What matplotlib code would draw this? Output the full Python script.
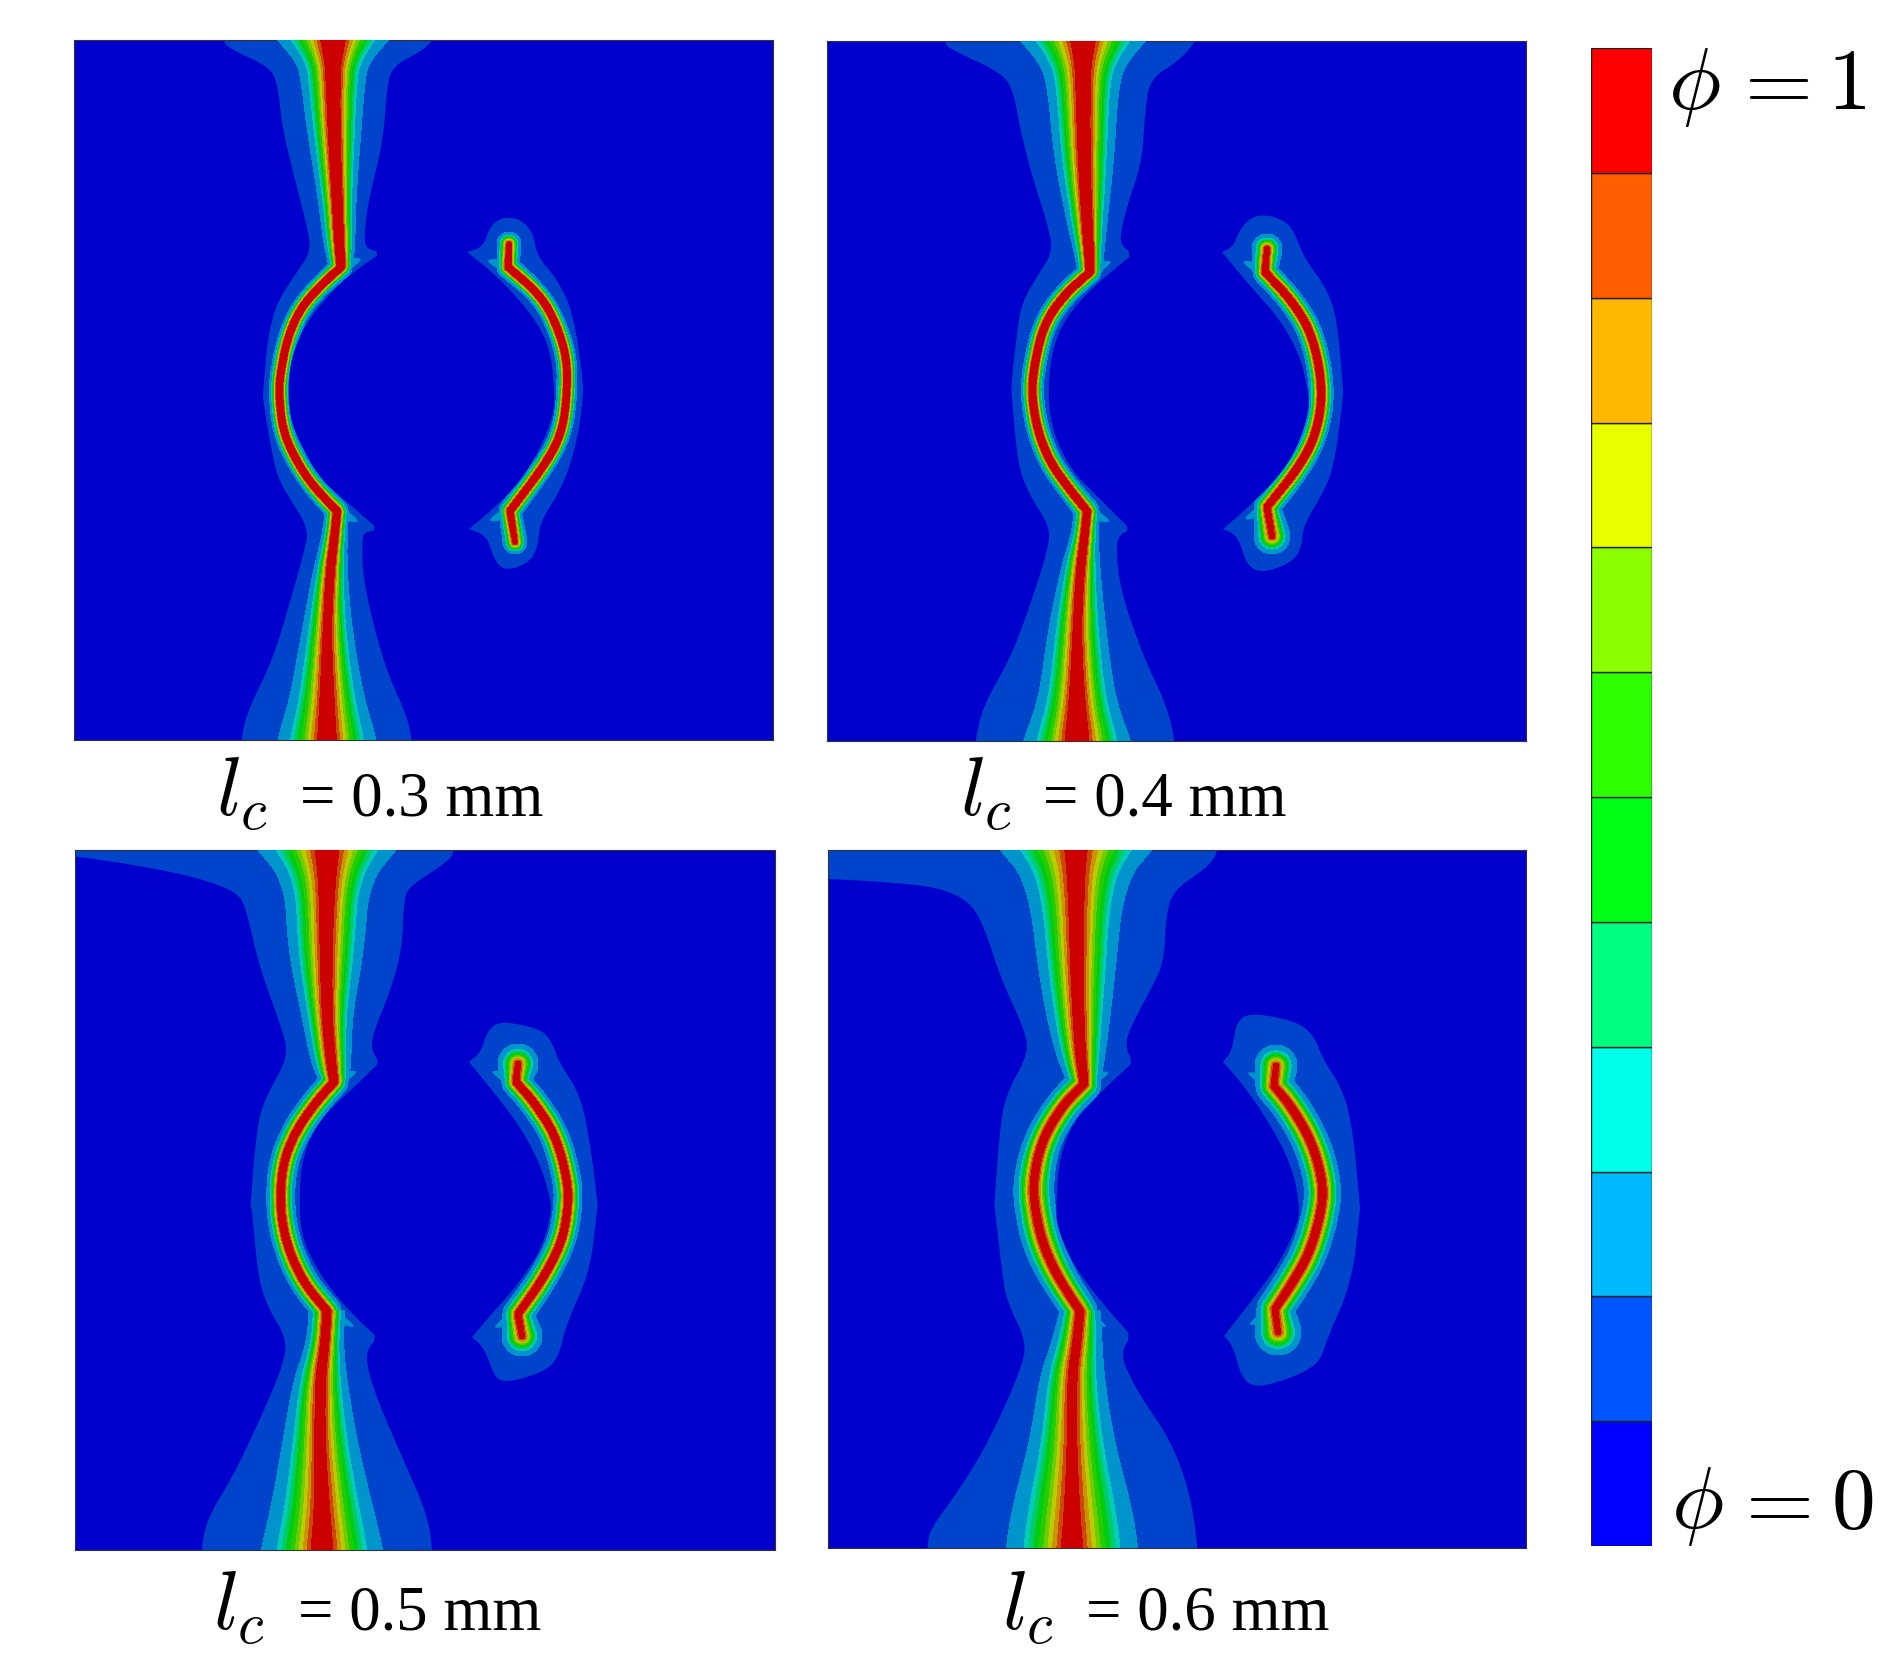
import numpy as np
import matplotlib
matplotlib.use('Agg')
import matplotlib.pyplot as plt

plt.rcParams['mathtext.fontset'] = 'cm'

W, H = 1892, 1656

# colour bands from phi=0 to phi=1 as on the legend
bar_colors = ['#0000ff', '#0055ff', '#00b9ff', '#00ffe8', '#00ff80', '#00ff17',
              '#2eff00', '#8bff00', '#e8ff00', '#ffb900', '#ff5d00', '#ff0000']
labels = ['0.3', '0.4', '0.5', '0.6']

# all positions below in image pixels
# crack paths: x, y, half width of red core, half width up to the sky band edge
P1_UPPER = [(333,38,13,58),(333,63,8,36),(333,80,7,32),(334,130,6,27),(337,197,5,19),(339,240,4.5,16),(341,268,4,12)]
P1_ARC = [(341,268,3.2,11),(320,287,3.2,10),(300,310,3.2,10),(287,340,3.2,10),(280,377,3.2,10),(279,397,3.2,10),(283,433,3.2,10),(297,463,3.2,10),(313,487,3.2,10),(337,512,3.2,11)]
P1_LOWER = [(337,512,3.5,12),(335,533,3.5,12),(330,573,4,17),(327,633,4,25),(327,700,7,37),(327,735,9,48),(327,750,10,50)]
P1_RIGHT = [(509,245,2.2,12),(508,268,3,11),(537,293,3.2,10),(553,317,3.2,10),(567,357,3.2,10),(567,397,3.2,10),(562,433,3.2,10),(547,463,3.2,10),(510,512,3,11),(515,543,2.2,12)]

P2_UPPER = [(1083,38,13,66),(1083,65,8,42),(1083,90,7,35),(1084,157,6,30),(1087,223,5,20),(1089,252,4.5,15),(1090,273,4,12)]
P2_ARC = [(1090,273,3.2,11),(1063,297,3.4,11),(1043,327,3.4,11),(1033,373,3.4,11),(1032,400,3.4,11),(1038,433,3.4,11),(1050,463,3.4,11),(1067,487,3.4,11),(1087,512,3.2,12)]
P2_LOWER = [(1087,512,3.5,13),(1085,533,3.5,13),(1080,573,4,20),(1077,633,4,29),(1077,700,7.5,38),(1077,740,12,53),(1077,752,12,55)]
P2_RIGHT = [(1267,250,2.4,15),(1265,273,3,12),(1293,303,3.4,12),(1313,337,3.4,12),(1323,390,3.4,12),(1317,433,3.4,12),(1300,467,3.4,12),(1267,508,3,13),(1272,537,2.4,18)]

P3_UPPER = [(327,846,12.5,73),(327,883,8,42),(326,950,6,38),(327,1017,5,25),(331,1063,4.5,20),(334,1083,4,14)]
P3_ARC = [(334,1083,3.4,14),(316,1103,3.4,14),(295,1133,3.4,14),(282,1167,3.4,14),(280,1210,3.4,14),(287,1247,3.4,14),(303,1283,3.4,14),(327,1312,3.4,14)]
P3_LOWER = [(327,1312,4,18),(325,1343,4,18),(320,1383,5,27),(320,1443,5,37),(322,1510,7.5,51),(322,1550,11,61),(322,1565,11,61)]
P3_RIGHT = [(518,1065,2.4,20),(516,1083,3,14),(534,1103,3.4,14),(556,1137,3.4,14),(568,1183,3.4,14),(568,1210,3.4,14),(562,1243,3.4,14),(543,1280,3.4,14),(518,1315,3,15),(522,1337,2.4,20)]

P4_UPPER = [(1076,846,11.6,80),(1076,883,8,48),(1077,983,6,37),(1080,1050,5,26),(1084,1085,4,16)]
P4_ARC = [(1084,1085,3.4,17),(1062,1107,3.6,17),(1041,1143,3.6,18),(1033,1183,3.6,20),(1035,1210,3.6,20),(1042,1243,3.6,20),(1057,1277,3.6,18),(1080,1312,3.4,17)]
P4_LOWER = [(1080,1312,4,20),(1077,1343,4,25),(1072,1377,4.5,32),(1072,1443,4.5,42),(1072,1510,7.5,60),(1072,1550,11,66),(1072,1565,11,66)]
P4_RIGHT = [(1276,1067,2.4,21),(1274,1087,3,18),(1291,1107,3.6,18),(1312,1143,3.6,18),(1323,1183,3.6,18),(1322,1210,3.6,18),(1310,1253,3.6,18),(1293,1283,3.6,18),(1275,1310,3,18),(1278,1333,2.4,23)]

# outer blue band outlines
P1_OUT_L = [(223,30),(223,42),(230,50),(270,68),(278,87),(282,127),(293,173),(307,227),(311,252),(297,273),(277,303),(268,337),(263,393),(263,400),(270,443),(277,477),(290,500),(309,530),(303,557),(290,603),(273,660),(250,707),(242,733),(241,760),(412,760),(412,742),(407,717),(390,680),(377,640),(363,580),(362,540),(365,533),(379,531),(382,253),(367,250),(364,240),(368,203),(383,143),(387,87),(393,67),(420,53),(433,42),(433,30)]
P1_OUT_R = [(467,253),(483,248),(490,227),(503,218),(520,220),(533,233),(537,257),(557,280),(573,313),(583,380),(583,400),(577,443),(563,487),(540,523),(538,547),(530,563),(507,572),(495,563),(487,537),(469,530)]
P2_OUT_L = [(944,30),(944,43),(950,50),(1000,73),(1013,90),(1020,130),(1033,180),(1047,223),(1053,252),(1040,273),(1022,303),(1017,333),(1011,387),(1012,400),(1018,467),(1030,497),(1050,528),(1048,550),(1030,607),(1010,660),(983,707),(975,743),(975,760),(1175,760),(1175,743),(1167,707),(1143,657),(1120,590),(1116,547),(1120,535),(1131,531),(1133,255),(1122,247),(1120,237),(1127,207),(1142,163),(1145,113),(1150,80),(1177,63),(1196,43),(1196,30)]
P2_OUT_R = [(1222,253),(1233,248),(1240,230),(1253,217),(1270,216),(1290,225),(1298,243),(1305,260),(1327,290),(1337,320),(1343,387),(1343,400),(1335,460),(1327,487),(1303,527),(1302,547),(1293,563),(1263,574),(1247,567),(1238,537),(1223,530)]
P3_OUT_L = [(60,840),(60,857),(75,857),(141,867),(195,878),(238,893),(247,913),(259,967),(281,1027),(289,1057),(266,1097),(257,1127),(250,1208),(252,1210),(258,1277),(267,1307),(287,1340),(283,1367),(257,1427),(233,1477),(207,1520),(201,1552),(201,1575),(433,1575),(433,1558),(428,1517),(403,1460),(377,1400),(367,1367),(367,1350),(378,1339),(380,1063),(372,1053),(372,1037),(391,990),(402,950),(404,900),(409,888),(441,867),(454,856),(454,840)]
P3_OUT_R = [(469,1063),(481,1053),(488,1030),(502,1022),(541,1030),(552,1043),(559,1063),(581,1097),(591,1150),(598,1208),(597,1210),(590,1273),(567,1323),(558,1360),(543,1373),(510,1383),(495,1380),(485,1350),(472,1338)]
P4_OUT_L = [(815,840),(815,880),(832,880),(884,883),(937,888),(969,902),(984,927),(1001,980),(1023,1027),(1029,1053),(1009,1090),(1001,1117),(994,1208),(995,1210),(1002,1273),(1007,1303),(1027,1343),(1020,1373),(990,1440),(960,1490),(930,1530),(927,1550),(927,1575),(1198,1575),(1198,1550),(1190,1493),(1170,1440),(1140,1397),(1123,1363),(1123,1350),(1131,1337),(1133,1063),(1126,1050),(1128,1033),(1151,990),(1164,963),(1166,917),(1173,892),(1205,870),(1217,856),(1217,840)]
P4_OUT_R = [(1223,1063),(1232,1052),(1237,1020),(1255,1014),(1298,1023),(1314,1037),(1323,1060),(1344,1093),(1353,1133),(1360,1208),(1360,1210),(1352,1283),(1327,1340),(1320,1363),(1297,1377),(1257,1389),(1242,1380),(1233,1347),(1224,1337)]

# hole outlines (left edge top to bottom, right edge bottom to top)
P1_HOLE_L = [(382,253),(347,278),(327,298),(307,323),(293,353),(288,383),(290,420),(300,443),(320,480),(347,503),(379,531)]
P1_HOLE_R = [(469,530),(493,510),(520,483),(540,450),(553,417),(555,397),(550,347),(530,313),(497,277),(467,253)]
P2_HOLE_L = [(1133,255),(1093,288),(1067,317),(1053,347),(1048,387),(1050,417),(1057,443),(1073,473),(1093,493),(1131,531)]
P2_HOLE_R = [(1223,530),(1243,513),(1277,480),(1297,450),(1310,410),(1307,387),(1300,357),(1280,320),(1250,287),(1222,253)]
P3_HOLE_L = [(380,1063),(349,1093),(320,1120),(302,1157),(299,1208),(303,1243),(323,1280),(350,1313),(378,1339)]
P3_HOLE_R = [(472,1338),(490,1317),(520,1283),(543,1247),(552,1210),(549,1195),(541,1167),(520,1127),(491,1090),(469,1063)]
P4_HOLE_L = [(1133,1063),(1101,1093),(1073,1123),(1059,1160),(1056,1208),(1057,1227),(1070,1260),(1093,1293),(1131,1337)]
P4_HOLE_R = [(1224,1337),(1253,1300),(1280,1263),(1297,1227),(1300,1208),(1292,1167),(1269,1123),(1241,1083),(1223,1063)]

# sky band spurs towards the notch tips
P1_SPURS = [((367,258),(341,268)),((482,260),(508,268)),((364,525),(337,512)),((484,524),(510,512))]
P2_SPURS = [((1117,260),(1090,273)),((1237,260),(1265,273)),((1116,525),(1087,512)),((1239,523),(1267,508))]
P3_SPURS = [((363,1070),(334,1083)),((485,1070),(516,1083)),((362,1332),(327,1312)),((488,1332),(518,1315))]
P4_SPURS = [((1116,1070),(1084,1085)),((1240,1070),(1274,1087)),((1114,1332),(1080,1312)),((1242,1330),(1275,1310))]

# panel extents: left, right, top, bottom
P1_BOX = (74, 773, 41, 741)
P2_BOX = (827, 1526, 42, 742)
P3_BOX = (75, 775, 851, 1551)
P4_BOX = (828, 1526, 851, 1549)

panels = [
    (P1_BOX, P1_UPPER, P1_ARC, P1_LOWER, P1_RIGHT, [P1_OUT_L, P1_OUT_R], P1_HOLE_L, P1_HOLE_R, P1_SPURS),
    (P2_BOX, P2_UPPER, P2_ARC, P2_LOWER, P2_RIGHT, [P2_OUT_L, P2_OUT_R], P2_HOLE_L, P2_HOLE_R, P2_SPURS),
    (P3_BOX, P3_UPPER, P3_ARC, P3_LOWER, P3_RIGHT, [P3_OUT_L, P3_OUT_R], P3_HOLE_L, P3_HOLE_R, P3_SPURS),
    (P4_BOX, P4_UPPER, P4_ARC, P4_LOWER, P4_RIGHT, [P4_OUT_L, P4_OUT_R], P4_HOLE_L, P4_HOLE_R, P4_SPURS),
]

label_x = [(216, 300), (960, 1043), (213, 298), (1002, 1086)]
label_y = [816, 816, 1630, 1630]


def chaikin(pts, n=2):
    pts = np.array(pts, dtype=float)
    for _ in range(n):
        a = pts[:-1] * 0.75 + pts[1:] * 0.25
        b = pts[:-1] * 0.25 + pts[1:] * 0.75
        mid = np.empty((2 * len(a), pts.shape[1]))
        mid[0::2] = a
        mid[1::2] = b
        pts = np.vstack([pts[0], mid, pts[-1]])
    return pts


def densify(path):
    p = chaikin(path, 3)
    seg = np.hypot(np.diff(p[:, 0]), np.diff(p[:, 1]))
    t = np.r_[0, np.cumsum(seg)]
    tt = np.arange(0, t[-1] + 1, 1.0)
    return np.column_stack([np.interp(tt, t, p[:, i]) for i in range(4)])


def profile(d, w, s):
    u = (d - w) / (s - w)
    tail = np.interp(u, [0, 0.32, 0.68, 1, 1.2], [11 / 12, 7 / 12, 3 / 12, 2 / 12, 0])
    return np.where(u < 0, 1 - d / w / 12, tail)


def add_radial(phi, xs, ys, path):
    for px, py, w, s in densify(path):
        i0, i1 = max(int(px - s - 2) - xs[0], 0), min(int(px + s + 3) - xs[0], len(xs))
        j0, j1 = max(int(py - s - 2) - ys[0], 0), min(int(py + s + 3) - ys[0], len(ys))
        if i0 >= i1 or j0 >= j1:
            continue
        gx, gy = np.meshgrid(xs[i0:i1], ys[j0:j1])
        v = profile(np.hypot(gx - px, gy - py), w, s)
        phi[j0:j1, i0:i1] = np.maximum(phi[j0:j1, i0:i1], v)


def add_rows(phi, xs, ys, path):
    # nearly vertical cracks: width is read along each row, so the flare at the edge stays a funnel
    p = chaikin(path, 3)
    for j, y in enumerate(ys):
        if y < p[0, 1] or y > p[-1, 1]:
            continue
        px, w, s = [np.interp(y, p[:, 1], p[:, c]) for c in (0, 2, 3)]
        phi[j] = np.maximum(phi[j], profile(np.abs(xs - px), w, s))


fig = plt.figure(figsize=(W / 100, H / 100), dpi=100)
rgb = np.array([matplotlib.colors.to_rgb(c) for c in bar_colors]) * 0.8
levels = np.arange(13) / 12

for idx, (box, upper, arc, lower, right, outs, hole_l, hole_r, spurs) in enumerate(panels):
    x0, x1, y0, y1 = box
    ax = fig.add_axes([x0 / W, 1 - y1 / H, (x1 - x0) / W, (y1 - y0) / H])
    ax.set_facecolor(rgb[0])
    for o in outs:
        o = chaikin(o)
        ax.fill(o[:, 0], o[:, 1], color=rgb[1], lw=0, zorder=1)
    for tip, knee in spurs:
        sp = chaikin([(knee[0], knee[1] - 8), tip, (knee[0], knee[1] + 8)])
        ax.fill(sp[:, 0], sp[:, 1], color=rgb[2], lw=0, zorder=2)
    xs = np.arange(x0, x1 + 1)
    ys = np.arange(y0, y1 + 1)
    phi = np.zeros((len(ys), len(xs)))
    add_rows(phi, xs, ys, upper)
    add_rows(phi, xs, ys, lower)
    add_radial(phi, xs, ys, arc)
    add_radial(phi, xs, ys, right[:2])
    add_radial(phi, xs, ys, right[1:-1])
    add_radial(phi, xs, ys, right[-2:])
    ax.contourf(xs, ys, phi, levels=levels[2:], colors=rgb[2:], zorder=3)
    hole = np.vstack([chaikin(hole_l), chaikin(hole_r)])
    ax.fill(hole[:, 0], hole[:, 1], color=rgb[0], lw=0, zorder=4)
    ax.set_xlim(x0, x1)
    ax.set_ylim(y1, y0)
    ax.set_xticks([])
    ax.set_yticks([])
    for sp in ax.spines.values():
        sp.set_linewidth(0.8)
        sp.set_color('#333333')
    lx, ex = label_x[idx]
    fig.text(lx / W, 1 - label_y[idx] / H, r'$l_c$', fontsize=60, va='baseline')
    fig.text(ex / W, 1 - label_y[idx] / H, '= ' + labels[idx] + ' mm', fontsize=45.3,
             family='Liberation Serif', va='baseline')

# legend bar
cax = fig.add_axes([1591 / W, 1 - 1547 / H, 61 / W, 1498 / H])
cax.bar(np.zeros(12), np.ones(12), bottom=np.arange(12), width=1, color=bar_colors,
        edgecolor='#222222', linewidth=1.0)
cax.set_xlim(-0.5, 0.5)
cax.set_ylim(0, 12)
cax.axis('off')

for x, s in [(1668, r'$\phi$'), (1729, r'$=$'), (1827, r'$1$')]:
    fig.text(x / W, 1 - 109 / H, s, fontsize=63, va='baseline')
for x, s in [(1671, r'$\phi$'), (1730, r'$=$'), (1831, r'$0$')]:
    fig.text(x / W, 1 - 1528 / H, s, fontsize=63, va='baseline')

fig.savefig('out.png', dpi=100)
